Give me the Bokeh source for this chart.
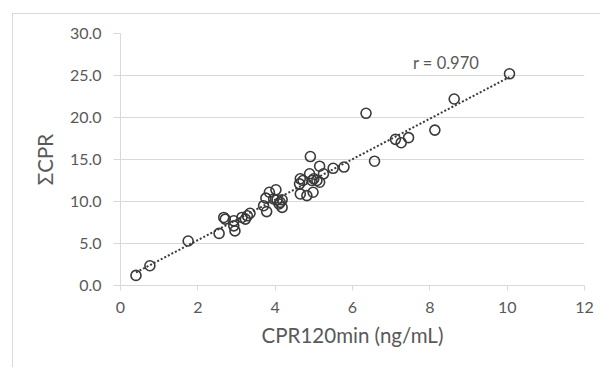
import numpy as np
from bokeh.plotting import figure
from bokeh.models import PrintfTickFormatter, FixedTicker, Label
from bokeh.embed import file_html
from bokeh.resources import INLINE

# CPR120min (ng/mL)
cpr120 = [0.40, 0.76, 1.75, 2.55, 2.67, 2.71, 2.93, 2.93, 2.96, 3.14,
          3.23, 3.28, 3.35, 3.70, 3.78, 3.76, 3.85, 3.96, 4.02, 4.05,
          4.10, 4.13, 4.18, 4.18, 4.63, 4.65, 4.65, 4.72, 4.82, 4.89,
          4.91, 4.95, 4.98, 5.00, 5.08, 5.15, 5.15, 5.25, 5.50, 5.78,
          6.35, 6.57, 7.11, 7.26, 7.45, 8.13, 8.63, 10.06]
# ΣCPR
sum_cpr = [1.2, 2.35, 5.3, 6.2, 8.1, 7.9, 7.7, 7.1, 6.5, 8.1,
           7.9, 8.3, 8.6, 9.5, 8.8, 10.4, 11.1, 10.3, 11.4, 10.2,
           9.7, 9.9, 9.3, 10.2, 12.1, 12.7, 10.9, 12.5, 10.7, 13.3,
           15.35, 12.5, 11.1, 12.7, 12.5, 12.3, 14.2, 13.3, 13.95, 14.1,
           20.5, 14.8, 17.4, 17.0, 17.6, 18.5, 22.2, 25.2]
x_ticks = [0, 2, 4, 6, 8, 10, 12]
y_ticks = [0, 5, 10, 15, 20, 25, 30]
r_label = "r = 0.970"

FONT = "Lato"
TXT = "#595959"
GRID = "#d9d9d9"
MARK = "#3a3a3a"

p = figure(width=588, height=354, x_range=(0, 12), y_range=(0, 30),
           output_backend="svg", toolbar_location=None,
           min_border_left=107, min_border_right=17,
           min_border_top=19, min_border_bottom=83)
p.margin = (13, 0, 0, 12)
p.styles = {"border-left": "1px solid #d9d9d9", "border-top": "1px solid #d9d9d9"}
p.outline_line_color = None
p.background_fill_color = "white"
p.border_fill_color = "white"

p.xgrid.grid_line_color = None
p.ygrid.grid_line_color = GRID
p.ygrid.grid_line_width = 1

p.xaxis.ticker = FixedTicker(ticks=x_ticks)
p.yaxis.ticker = FixedTicker(ticks=y_ticks)
p.yaxis.formatter = PrintfTickFormatter(format="%.1f")

for ax in (p.xaxis, p.yaxis):
    ax.axis_line_color = GRID
    ax.major_tick_line_color = GRID
    ax.minor_tick_line_color = None
    ax.major_tick_in = 0
    ax.major_label_text_font = FONT
    ax.major_label_text_font_size = "16px"
    ax.major_label_text_color = TXT
    ax.axis_label_text_font = FONT
    ax.axis_label_text_font_size = "20.5px"
    ax.axis_label_text_color = TXT
    ax.axis_label_text_font_style = "normal"
p.xaxis.major_tick_out = 5
p.yaxis.major_tick_out = 7
p.xaxis.major_label_standoff = 11
p.yaxis.major_label_standoff = 12
p.xaxis.axis_label = "CPR120min (ng/mL)"
p.yaxis.axis_label = "ΣCPR"
p.xaxis.axis_label_standoff = 7
p.yaxis.axis_label_standoff = 10

xs = np.array(cpr120)
ys = np.array(sum_cpr)
slope, intercept = np.polyfit(xs, ys, 1)
lx = np.array([xs.min(), xs.max()])
p.line(lx, slope * lx + intercept, line_color=MARK, line_width=2, line_dash="2 2")

p.scatter(cpr120, sum_cpr, marker="circle", size=10, line_color=MARK,
          line_width=1.6, fill_alpha=0)

p.add_layout(Label(x=8.42, y=26.5, text=r_label, text_align="center",
                   text_baseline="middle", text_font=FONT,
                   text_font_size="16.5px", text_color=TXT))

open("out.html", "w").write(file_html(p, INLINE))
